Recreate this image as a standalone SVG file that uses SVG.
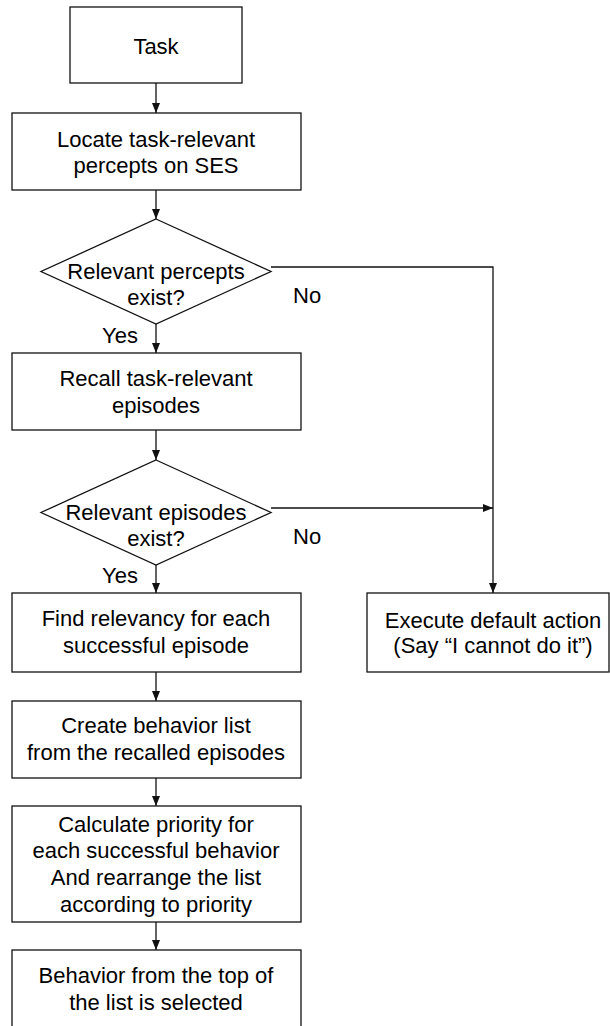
<svg xmlns="http://www.w3.org/2000/svg" width="610" height="1026" viewBox="0 0 610 1026">
<style>
.box{fill:#fff;stroke:#111;stroke-width:1.3}
.ln{fill:none;stroke:#111;stroke-width:1.3}
text{font-family:"Liberation Sans",Arial,sans-serif;font-size:22px;fill:#000;text-anchor:middle}
.lbl{text-anchor:start}
</style>
<defs>
<marker id="ah" viewBox="0 0 10 8" markerWidth="10" markerHeight="8" refX="10" refY="4" orient="auto" markerUnits="userSpaceOnUse">
<path d="M0,0 L10,4 L0,8 z" fill="#111"/>
</marker>
</defs>
<rect width="610" height="1026" fill="#fff"/>
<g id="connectors">
<line class="ln" x1="156" y1="83" x2="156" y2="113" marker-end="url(#ah)"/>
<line class="ln" x1="156" y1="190" x2="156" y2="219" marker-end="url(#ah)"/>
<line class="ln" x1="156" y1="324" x2="156" y2="353" marker-end="url(#ah)"/>
<line class="ln" x1="156" y1="430" x2="156" y2="460" marker-end="url(#ah)"/>
<line class="ln" x1="156" y1="565" x2="156" y2="593" marker-end="url(#ah)"/>
<line class="ln" x1="156" y1="672" x2="156" y2="701" marker-end="url(#ah)"/>
<line class="ln" x1="156" y1="778" x2="156" y2="806" marker-end="url(#ah)"/>
<line class="ln" x1="156" y1="922" x2="156" y2="950" marker-end="url(#ah)"/>
<polyline class="ln" points="271,267 493,267 493,593" marker-end="url(#ah)"/>
<line class="ln" x1="271" y1="508" x2="493" y2="508" marker-end="url(#ah)"/>
<text class="lbl" x="293" y="303">No</text>
<text class="lbl" x="102" y="343">Yes</text>
<text class="lbl" x="293" y="544">No</text>
<text class="lbl" x="102" y="583">Yes</text>
</g>
<g id="task">
<rect class="box" x="70" y="7" width="172" height="76"/>
<text x="156" y="54">Task</text>
</g>
<g id="locate">
<rect class="box" x="12" y="113" width="289" height="77"/>
<text x="156" y="147">Locate task-relevant</text>
<text x="156" y="173">percepts on SES</text>
</g>
<g id="percepts-exist">
<polygon class="box" points="156,219 271,271.5 156,324 41,271.5"/>
<text x="156" y="279">Relevant percepts</text>
<text x="156" y="305">exist?</text>
</g>
<g id="recall">
<rect class="box" x="12" y="353" width="289" height="77"/>
<text x="156" y="386">Recall task-relevant</text>
<text x="156" y="413">episodes</text>
</g>
<g id="episodes-exist">
<polygon class="box" points="156,460 271,512.5 156,565 41,512.5"/>
<text x="156" y="520">Relevant episodes</text>
<text x="156" y="546">exist?</text>
</g>
<g id="find">
<rect class="box" x="12" y="593" width="289" height="79"/>
<text x="156" y="626">Find relevancy for each</text>
<text x="156" y="653">successful episode</text>
</g>
<g id="execute">
<rect class="box" x="367" y="593" width="242" height="79"/>
<text x="493" y="628">Execute default action</text>
<text x="493" y="653">(Say “I cannot do it”)</text>
</g>
<g id="create">
<rect class="box" x="12" y="701" width="289" height="77"/>
<text x="156" y="733">Create behavior list</text>
<text x="156" y="760">from the recalled episodes</text>
</g>
<g id="calculate">
<rect class="box" x="12" y="806" width="289" height="116"/>
<text x="156" y="832">Calculate priority for</text>
<text x="156" y="858">each successful behavior</text>
<text x="156" y="885">And rearrange the list</text>
<text x="156" y="912">according to priority</text>
</g>
<g id="behavior">
<rect class="box" x="12" y="950" width="289" height="90"/>
<text x="156" y="983">Behavior from the top of</text>
<text x="156" y="1010">the list is selected</text>
</g>
</svg>
